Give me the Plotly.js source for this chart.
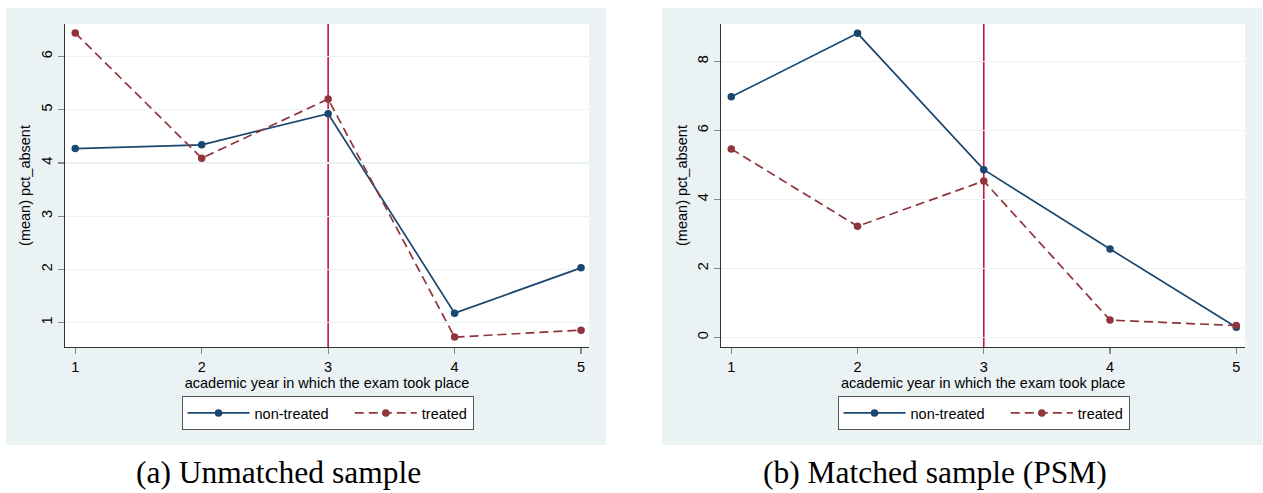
<!DOCTYPE html>
<html>
<head>
<meta charset="utf-8">
<script src="https://cdn.plot.ly/plotly-3.0.1.min.js"></script>
<style>
  html, body { margin: 0; padding: 0; background: #ffffff; }
  #chart { width: 1263px; height: 493px; }
</style>
</head>
<body>
<div id="chart"></div>
<script>
// Academic year of the exam (x axis, both panels)
const years = [1, 2, 3, 4, 5];

// (a) Unmatched sample: mean pct_absent by group
const unmatchedNonTreated = [4.27, 4.34, 4.925, 1.18, 2.03];
const unmatchedTreated    = [6.44, 4.09, 5.20, 0.73, 0.86];

// (b) Matched sample (PSM): mean pct_absent by group
const matchedNonTreated = [6.97, 8.81, 4.86, 2.56, 0.29];
const matchedTreated    = [5.46, 3.22, 4.53, 0.50, 0.34];

// Tick values
const xTicks = [1, 2, 3, 4, 5];
const yTicksUnmatched = [1, 2, 3, 4, 5, 6];
const yTicksMatched = [0, 2, 4, 6, 8];

// Year in which the policy starts (vertical reference line)
const eventYear = 3;

const seriesNames = ['non-treated', 'treated'];
const captions = ['(a) Unmatched sample', '(b) Matched sample (PSM)'];

const W = 1263, H = 493;
const px = v => v / W;          // horizontal pixel -> paper
const py = v => 1 - v / H;      // vertical pixel (from top) -> paper

const NAVY = '#1a476f';
const MAROON = '#90353b';
const PANEL = '#eaf2f3';
const SANS = 'Liberation Sans, Arial, sans-serif';
const SERIF = 'Liberation Serif, Times New Roman, serif';
const FS = 14.5;
// extra room after the first legend entry (non-breaking spaces)
const ENTRY_PAD = '\u00a0\u00a0\u00a0\u00a0';

function lineTrace(y, name, xa, ya, lg, treated) {
  return {
    x: years, y: y, name: name, type: 'scatter', mode: 'lines+markers',
    xaxis: xa, yaxis: ya, legend: lg,
    line: { color: treated ? MAROON : NAVY, width: 1.7, dash: treated ? '9px,5px' : 'solid' },
    marker: { color: treated ? MAROON : NAVY, size: 7.5, symbol: 'circle' },
    hoverinfo: 'x+y+name'
  };
}

const data = [
  lineTrace(unmatchedNonTreated, seriesNames[0] + ENTRY_PAD, 'x', 'y', 'legend', false),
  lineTrace(unmatchedTreated, seriesNames[1], 'x', 'y', 'legend', true),
  lineTrace(matchedNonTreated, seriesNames[0] + ENTRY_PAD, 'x2', 'y2', 'legend2', false),
  lineTrace(matchedTreated, seriesNames[1], 'x2', 'y2', 'legend2', true)
];

const yDomain = [py(347), py(24)];

function xAxis(domain, range, anchor) {
  return {
    domain: domain, range: range, anchor: anchor,
    tickmode: 'array', tickvals: xTicks, ticktext: xTicks.map(String),
    ticks: 'outside', ticklen: 6, tickcolor: '#888888', tickwidth: 1.2,
    showline: true, linecolor: '#333333', linewidth: 1.3,
    showgrid: false, zeroline: false,
    tickfont: { family: SANS, size: FS, color: '#000000' },
    title: { text: 'academic year in which the exam took place', standoff: 2,
             font: { family: SANS, size: FS, color: '#000000' } }
  };
}

function yAxis(range, ticks, anchor) {
  return {
    domain: yDomain, range: range, anchor: anchor,
    tickmode: 'array', tickvals: ticks, ticktext: ticks.map(String),
    tickangle: -90,
    ticks: 'outside', ticklen: 6, tickcolor: '#888888', tickwidth: 1.2,
    showline: true, linecolor: '#333333', linewidth: 1.3,
    showgrid: true, gridcolor: PANEL, gridwidth: 1.3, zeroline: false,
    tickfont: { family: SANS, size: FS, color: '#000000' },
    title: { text: '(mean) pct_absent', standoff: 4,
             font: { family: SANS, size: FS, color: '#000000' } }
  };
}

function legendBox(cx) {
  return {
    orientation: 'h', x: px(cx), xanchor: 'center', y: py(396), yanchor: 'top',
    bgcolor: '#ffffff', bordercolor: '#555555', borderwidth: 1,
    font: { family: SANS, size: FS, color: '#000000' },
    itemwidth: 62, traceorder: 'normal'
  };
}

const layout = {
  width: W, height: H,
  margin: { l: 0, r: 0, t: 0, b: 0 },
  paper_bgcolor: '#ffffff', plot_bgcolor: 'rgba(0,0,0,0)',
  showlegend: true,
  xaxis: xAxis([px(65), px(589)], [0.919, 5.063], 'y'),
  yaxis: yAxis([0.544, 6.61], yTicksUnmatched, 'x'),
  xaxis2: xAxis([px(721.3), px(1245)], [0.921, 5.069], 'y2'),
  yaxis2: yAxis([-0.28, 9.08], yTicksMatched, 'x2'),
  legend: legendBox(327.5),
  legend2: legendBox(983.5),
  shapes: [
    // panel backgrounds
    { type: 'rect', xref: 'paper', yref: 'paper', x0: px(6), x1: px(606), y0: py(445), y1: py(8),
      fillcolor: PANEL, line: { width: 0 }, layer: 'below' },
    { type: 'rect', xref: 'paper', yref: 'paper', x0: px(662), x1: px(1262), y0: py(445), y1: py(8),
      fillcolor: PANEL, line: { width: 0 }, layer: 'below' },
    // plot areas
    { type: 'rect', xref: 'x domain', yref: 'y domain', x0: 0, x1: 1, y0: 0, y1: 1,
      fillcolor: '#ffffff', line: { width: 0 }, layer: 'below' },
    { type: 'rect', xref: 'x2 domain', yref: 'y2 domain', x0: 0, x1: 1, y0: 0, y1: 1,
      fillcolor: '#ffffff', line: { width: 0 }, layer: 'below' },
    // reference lines at the event year
    { type: 'line', xref: 'x', yref: 'y domain', x0: eventYear, x1: eventYear, y0: 0, y1: 1,
      line: { color: '#c0143c', width: 1.6 }, layer: 'below' },
    { type: 'line', xref: 'x2', yref: 'y2 domain', x0: eventYear, x1: eventYear, y0: 0, y1: 1,
      line: { color: '#c0143c', width: 1.6 }, layer: 'below' }
  ],
  annotations: [
    { xref: 'paper', yref: 'paper', x: px(278.5), y: py(472), xanchor: 'center', yanchor: 'middle',
      text: captions[0], showarrow: false,
      font: { family: SERIF, size: 31.5, color: '#000000' } },
    { xref: 'paper', yref: 'paper', x: px(935), y: py(472), xanchor: 'center', yanchor: 'middle',
      text: captions[1], showarrow: false,
      font: { family: SERIF, size: 31.5, color: '#000000' } }
  ]
};

Plotly.newPlot('chart', data, layout, { displayModeBar: false, staticPlot: true });
</script>
</body>
</html>
